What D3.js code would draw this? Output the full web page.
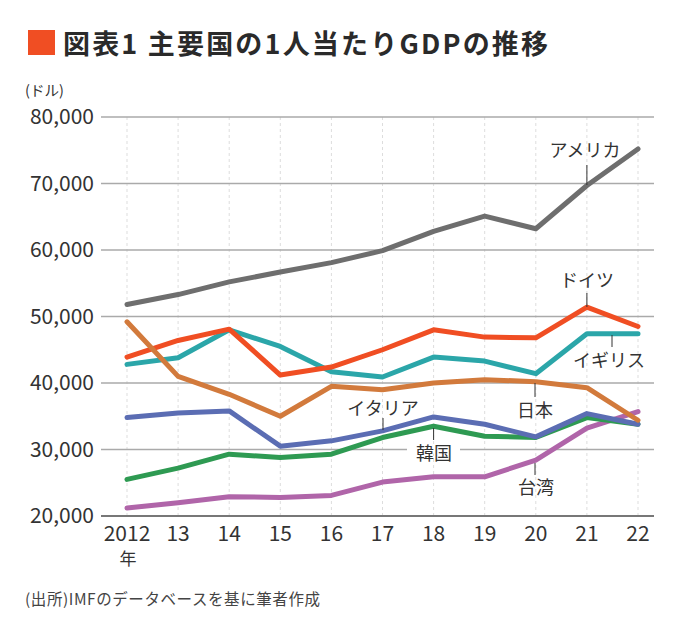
<!DOCTYPE html>
<html><head><meta charset="utf-8">
<script src="https://cdn.jsdelivr.net/npm/d3@7"></script>
<style>
body{margin:0;background:#fff;}
text{font-family:"Noto Sans CJK JP","Noto Sans",sans-serif;}
</style></head>
<body><svg id="c" width="680" height="619"></svg>
<script>
const years = [2012,2013,2014,2015,2016,2017,2018,2019,2020,2021,2022];
const yearLabels = ["2012","13","14","15","16","17","18","19","20","21","22"];
const yTicks = [20000,30000,40000,50000,60000,70000,80000];
const usa     = [51800,53300,55200,56700,58100,59900,62800,65100,63200,69700,75200];
const germany = [43900,46400,48100,41200,42400,45000,48000,46900,46800,51400,48500];
const uk      = [42800,43800,48000,45500,41700,40900,43900,43300,41400,47400,47400];
const japan   = [49200,41000,38300,35000,39500,39000,40000,40500,40200,39300,34400];
const italy   = [34800,35500,35800,30500,31300,32800,34900,33800,31900,35400,33800];
const korea   = [25500,27200,29300,28800,29300,31800,33500,32000,31800,34800,33800];
const taiwan  = [21200,22000,22900,22800,23100,25100,25900,25900,28400,33200,35700];

const svg = d3.select("#c");
const x = d3.scaleLinear().domain([2012,2022]).range([127,638]);
const y = d3.scaleLinear().domain([20000,80000]).range([516,117]);

// title
svg.append("rect").attr("x",28).attr("y",30).attr("width",27).attr("height",25).attr("fill","#f04e23");
svg.append("text").attr("x",63).attr("y",54).attr("font-size",27).attr("font-weight","bold")
  .attr("fill","#2a2a2a").attr("textLength",485).attr("lengthAdjust","spacing")
  .text("図表1 主要国の1人当たりGDPの推移");
svg.append("text").attr("x",25).attr("y",96).attr("font-size",14.5).attr("fill","#333").text("(ドル)");

// vertical dotted grid
svg.append("g").selectAll("line").data(years).join("line")
  .attr("x1",d=>x(d)).attr("x2",d=>x(d)).attr("y1",y(80000)).attr("y2",y(20000))
  .attr("stroke","#ddd").attr("stroke-width",1).attr("stroke-dasharray","3,3");

// horizontal grid
svg.append("g").selectAll("line").data(yTicks).join("line")
  .attr("x1",101).attr("x2",654).attr("y1",d=>y(d)).attr("y2",d=>y(d))
  .attr("stroke",d=>d===20000?"#777":"#aaa").attr("stroke-width",d=>d===20000?2:1.5);

// y tick labels
svg.append("g").selectAll("text").data(yTicks).join("text")
  .attr("x",94).attr("y",d=>y(d)+7).attr("text-anchor","end").attr("font-size",21)
  .attr("fill","#333").text(d=>d3.format(",")(d));

// x tick labels
svg.append("g").selectAll("text").data(years).join("text")
  .attr("x",d=>x(d)).attr("y",541).attr("text-anchor","middle").attr("font-size",21)
  .attr("fill","#333").text((d,i)=>yearLabels[i]);
svg.append("text").attr("x",x(2012)+1).attr("y",565).attr("text-anchor","middle").attr("font-size",17).attr("fill","#333").text("年");

// source
svg.append("text").attr("x",25).attr("y",605).attr("font-size",15.5).attr("fill","#444")
  .attr("textLength",295).attr("lengthAdjust","spacing").text("(出所)IMFのデータベースを基に筆者作成");

// lines
const series = [
  {v:taiwan,c:"#b065a9"},
  {v:korea,c:"#2e9a52"},
  {v:italy,c:"#5b6db3"},
  {v:uk,c:"#2ba6a9"},
  {v:germany,c:"#f04e23"},
  {v:japan,c:"#d27a3c"},
  {v:usa,c:"#6e6e6e"}
];
const line = d3.line().x((d,i)=>x(years[i])).y(d=>y(d));
svg.append("g").selectAll("path").data(series).join("path")
  .attr("d",d=>line(d.v)).attr("fill","none").attr("stroke",d=>d.c)
  .attr("stroke-width",5).attr("stroke-linejoin","round").attr("stroke-linecap","round");

// labels with leader lines
function label(txt, tx, ty, lx, ly1, ly2, anchor){
  svg.append("line").attr("x1",lx).attr("x2",lx).attr("y1",ly1).attr("y2",ly2)
    .attr("stroke","#333").attr("stroke-width",1);
  svg.append("text").attr("x",tx).attr("y",ty).attr("font-size",18).attr("fill","#333")
    .attr("text-anchor",anchor||"middle").text(txt);
}
// Korea label background gap on grid line
svg.append("rect").attr("x",407).attr("y",y(30000)-4).attr("width",53).attr("height",8).attr("fill","#fff");

label("アメリカ", 585, 157, x(2021), 165, 185);
label("ドイツ", 587, 287, x(2021), 293, 307);
label("イギリス", 609, 367, 612, 335, 347);
label("日本", 535, 417, 535, 383, 397);
label("イタリア", 383, 415, 383, 418, 430);
label("韓国", 434, 460, x(2018), 428, 440);
label("台湾", 536, 494, 535, 463, 475);
</script></body></html>
